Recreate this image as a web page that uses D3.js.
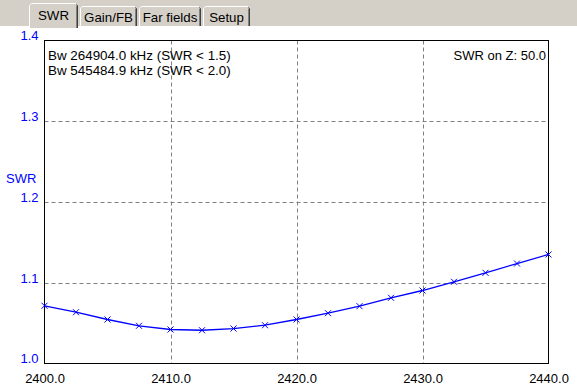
<!DOCTYPE html>
<html>
<head>
<meta charset="utf-8">
<script src="https://cdn.jsdelivr.net/npm/d3@7"></script>
<style>
  body { margin: 0; background: #fff; }
  svg { display: block; font-family: "Liberation Sans", Arial, sans-serif; }
</style>
</head>
<body>
<div id="chart"></div>
<script>
const width = 577, height = 392;

// frequencies in MHz, swr readings
const freqs = [2400, 2402.5, 2405, 2407.5, 2410, 2412.5, 2415, 2417.5, 2420,
               2422.5, 2425, 2427.5, 2430, 2432.5, 2435, 2437.5, 2440];
const swr = [1.0715, 1.0635, 1.0545, 1.0467, 1.0421, 1.0412, 1.0433, 1.0474, 1.0545,
             1.0623, 1.0710, 1.0814, 1.0904, 1.1012, 1.1123, 1.1238, 1.1350];
const xTicks = [2400, 2410, 2420, 2430, 2440];
const yTicks = [1.0, 1.1, 1.2, 1.3, 1.4];
const tabs = ["SWR", "Gain/FB", "Far fields", "Setup"];
const tabEdges = [29, 79, 138, 202, 251];
const infoLines = ["Bw 264904.0 kHz (SWR < 1.5)", "Bw 545484.9 kHz (SWR < 2.0)"];

const plot = {left: 44.5, right: 548.5, top: 40.5, bottom: 363.5};

const svg = d3.select("#chart").append("svg")
    .attr("width", width)
    .attr("height", height);

// tab strip
svg.append("rect").attr("x", 0).attr("y", 0).attr("width", width).attr("height", 27).attr("fill", "#d4d0c8");
svg.append("line").attr("x1", 0).attr("x2", width).attr("y1", 26.5).attr("y2", 26.5).attr("stroke", "#fff");

tabs.forEach((t, i) => {
    const sel = i === 0;
    const x0 = tabEdges[i] + (sel ? 0 : 1), x1 = tabEdges[i + 1] - 1;
    const top = sel ? 3.5 : 6.5;
    const bot = sel ? 28 : 26;
    const g = svg.append("g");
    g.append("rect").attr("x", x0).attr("y", top).attr("width", x1 - x0).attr("height", bot - top)
        .attr("fill", "#d4d0c8");
    g.append("path").attr("d", `M${x0 + 0.5},${bot} V${top + 2} L${x0 + 2.5},${top} H${x1 - 2}`)
        .attr("fill", "none").attr("stroke", "#fff");
    g.append("path").attr("d", `M${x1 - 1.5},${top + 1} L${x1 - 0.5},${top + 2} V${bot}`)
        .attr("fill", "none").attr("stroke", "#404040");
    g.append("line").attr("x1", x1 - 1.5).attr("x2", x1 - 1.5).attr("y1", top + 2).attr("y2", bot)
        .attr("stroke", "#808080");
    g.append("text").attr("x", (x0 + x1) / 2).attr("y", sel ? 20 : 22)
        .attr("text-anchor", "middle").attr("font-size", 13.3).attr("fill", "#000").text(t);
});

const x = d3.scaleLinear().domain([2400, 2440]).range([plot.left, plot.right]);
const y = d3.scaleLinear().domain([1.0, 1.4]).range([plot.bottom, plot.top]);

// grid
svg.append("g").selectAll("line").data(xTicks.slice(1, -1)).join("line")
    .attr("x1", d => Math.round(x(d)) + 0.5).attr("x2", d => Math.round(x(d)) + 0.5)
    .attr("y1", plot.top).attr("y2", plot.bottom)
    .attr("stroke", "#808080").attr("stroke-dasharray", "4,3");
svg.append("g").selectAll("line").data(yTicks.slice(1, -1)).join("line")
    .attr("x1", plot.left).attr("x2", plot.right)
    .attr("y1", d => Math.round(y(d)) + 0.5).attr("y2", d => Math.round(y(d)) + 0.5)
    .attr("stroke", "#808080").attr("stroke-dasharray", "4,3");

// frame
svg.append("rect").attr("x", plot.left).attr("y", plot.top)
    .attr("width", plot.right - plot.left).attr("height", plot.bottom - plot.top)
    .attr("fill", "none").attr("stroke", "#000");

// axes labels
const xAxis = d3.axisBottom(x).tickValues(xTicks).tickFormat(d3.format(".1f")).tickSize(0).tickPadding(10);
const gx = svg.append("g").attr("transform", `translate(0,${plot.bottom})`).call(xAxis);
gx.select(".domain").remove();
gx.selectAll("text").attr("font-size", 13).attr("fill", "#000").attr("font-family", null);

const yAxis = d3.axisLeft(y).tickValues(yTicks).tickFormat(d3.format(".1f")).tickSize(0).tickPadding(6);
const gy = svg.append("g").attr("transform", `translate(${plot.left},0)`).call(yAxis);
gy.select(".domain").remove();
gy.selectAll("text").attr("font-size", 13).attr("fill", "#0000ff").attr("font-family", null).attr("dy", "-0.05em");

svg.append("text").attr("x", 6).attr("y", 183).attr("font-size", 13).attr("fill", "#0000ff").text("SWR");

// info text
svg.append("g").selectAll("text").data(infoLines).join("text")
    .attr("x", 48).attr("y", (d, i) => 60 + i * 15)
    .attr("font-size", 13.4).attr("fill", "#000").text(d => d);
svg.append("text").attr("x", 546).attr("y", 60).attr("text-anchor", "end")
    .attr("font-size", 13).attr("fill", "#000").text("SWR on Z: 50.0");

// curve
const pts = freqs.map((f, i) => [f, swr[i]]);
svg.append("path").datum(pts)
    .attr("fill", "none").attr("stroke", "#0000ff").attr("stroke-width", 1.3)
    .attr("d", d3.line().x(d => x(d[0])).y(d => y(d[1])));

svg.append("g").selectAll("path").data(pts).join("path")
    .attr("transform", d => `translate(${x(d[0])},${y(d[1])})`)
    .attr("d", "M-3,-3L3,3M-3,3L3,-3")
    .attr("stroke", "#0000ff").attr("stroke-width", 1);
</script>
</body>
</html>
